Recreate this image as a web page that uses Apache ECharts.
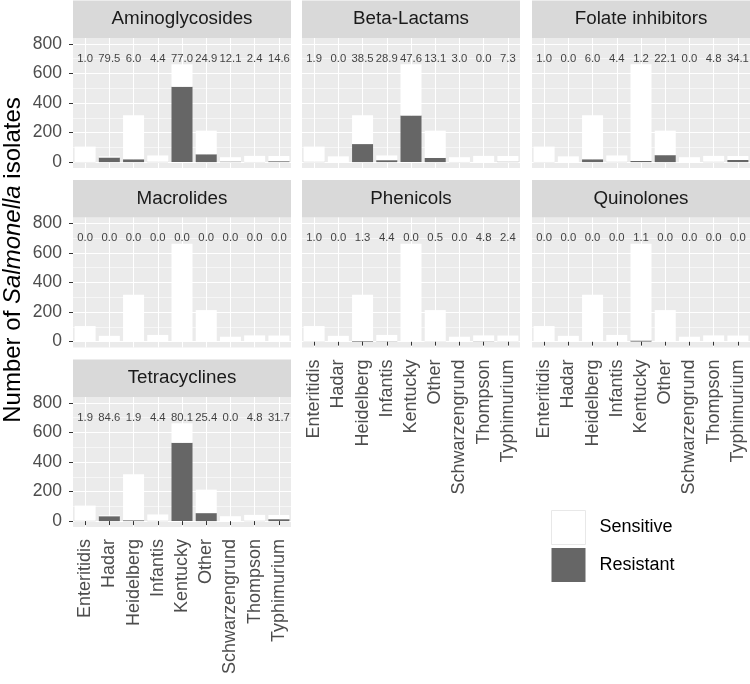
<!DOCTYPE html>
<html><head><meta charset="utf-8">
<script src="https://cdn.jsdelivr.net/npm/echarts@6/dist/echarts.min.js"></script>
<style>html,body{margin:0;padding:0;background:#fff}#c{width:750px;height:684px}</style>
</head><body><div id="c"></div>
<script>
// ---------- data ----------
const serovars = ['Enteritidis','Hadar','Heidelberg','Infantis','Kentucky','Other','Schwarzengrund','Thompson','Typhimurium'];
const totals = [105, 39, 317, 45, 662, 213, 33, 42, 41];
const classes = ['Aminoglycosides','Beta-Lactams','Folate inhibitors','Macrolides','Phenicols','Quinolones','Tetracyclines'];
const resAminoglycosides = [1, 31, 19, 2, 510, 53, 4, 1, 6];
const resBetaLactams     = [2, 0, 122, 13, 315, 28, 1, 0, 3];
const resFolate          = [1, 0, 19, 2, 8, 47, 0, 2, 14];
const resMacrolides      = [0, 0, 0, 0, 0, 0, 0, 0, 0];
const resPhenicols       = [1, 0, 4, 2, 0, 1, 0, 2, 1];
const resQuinolones      = [0, 0, 0, 0, 7, 0, 0, 0, 0];
const resTetracyclines   = [2, 33, 6, 2, 530, 54, 0, 2, 13];
const yTicks = [0, 200, 400, 600, 800];
const labelY = 700;
const legendNames = ['Sensitive', 'Resistant'];

const resistant = [resAminoglycosides, resBetaLactams, resFolate, resMacrolides, resPhenicols, resQuinolones, resTetracyclines];

// ---------- layout ----------
const FONT = '"Liberation Sans", Arial, sans-serif';
const colX = [73, 302, 532];
const panelW = 218, panelH = 130;
const panelTop = [38, 217.5, 397];
const stripH = 37.5;
const bottomPanels = [6, 4, 5];

const grids = [], xAxes = [], yAxes = [], series = [], graphics = [];
classes.forEach((cls, p) => {
  const row = Math.floor(p / 3), col = p % 3;
  const left = colX[col], top = panelTop[row];
  const showX = bottomPanels.includes(p);
  const showY = col === 0;
  grids.push({left: left, top: top, width: panelW, height: panelH, show: true,
    backgroundColor: '#EBEBEB', borderWidth: 0, containLabel: false});
  xAxes.push({type: 'category', gridIndex: p, data: serovars,
    axisLine: {show: false},
    axisTick: {show: showX, alignWithLabel: true, interval: 0, length: 4, lineStyle: {color: '#333', width: 1}},
    axisLabel: {show: showX, rotate: 90, interval: 0, fontSize: 18, color: '#4D4D4D', margin: 12, fontFamily: FONT},
    splitLine: {show: true, alignWithLabel: true, interval: 0, lineStyle: {color: '#FFFFFF', width: 1.1}}
  });
  yAxes.push({type: 'value', gridIndex: p, min: -40, max: 840, splitNumber: 5,
    axisLine: {show: false},
    axisTick: {show: showY, length: 4, customValues: yTicks, lineStyle: {color: '#333', width: 1}},
    axisLabel: {show: showY, customValues: yTicks, fontSize: 17.5, color: '#4D4D4D', margin: 11, fontFamily: FONT},
    splitLine: {show: true, lineStyle: {color: '#FFFFFF', width: 1.1}},
    minorTick: {show: false, splitNumber: 2},
    minorSplitLine: {show: true, lineStyle: {color: '#FFFFFF', width: 0.55}}
  });
  const res = resistant[p];
  const sens = totals.map((t, i) => t - res[i]);
  const pct = res.map((r, i) => (r / totals[i] * 100).toFixed(1));
  series.push({type: 'bar', name: 'Resistant', xAxisIndex: p, yAxisIndex: p, stack: 's' + p,
    data: res, barWidth: 21, itemStyle: {color: '#666666'}, silent: true});
  series.push({type: 'bar', name: 'Sensitive', xAxisIndex: p, yAxisIndex: p, stack: 's' + p,
    data: sens, barWidth: 21, itemStyle: {color: '#FFFFFF'}, silent: true});
  series.push({type: 'scatter', name: 'pct' + p, xAxisIndex: p, yAxisIndex: p,
    data: serovars.map((s, i) => [i, labelY]), symbolSize: 1, itemStyle: {color: 'rgba(0,0,0,0)'}, silent: true,
    label: {show: true, position: 'inside', formatter: (d) => pct[d.dataIndex],
      fontSize: 11.3, color: '#111', fontFamily: FONT}});
  graphics.push({type: 'rect', shape: {x: left, y: top - stripH, width: panelW, height: stripH},
    style: {fill: '#D9D9D9'}, silent: true});
  graphics.push({type: 'text', x: left + panelW / 2, y: top - stripH / 2,
    style: {text: cls, fill: '#1A1A1A', font: '18.8px ' + FONT, textAlign: 'center', textVerticalAlign: 'middle'}, silent: true});
});

graphics.push({type: 'text', x: 13, y: 260, rotation: Math.PI / 2,
  style: {text: '{a|Number of }{b|Salmonella}{a| isolates}', fill: '#000',
    rich: {a: {fontSize: 24, fontFamily: FONT, fill: '#000'}, b: {fontSize: 24, fontFamily: FONT, fontStyle: 'italic', fill: '#000'}},
    textAlign: 'center', textVerticalAlign: 'middle'}, silent: true});

const chart = echarts.init(document.getElementById('c'), null, {renderer: 'canvas'});
chart.setOption({
  animation: false,
  backgroundColor: '#FFFFFF',
  textStyle: {fontFamily: FONT},
  grid: grids, xAxis: xAxes, yAxis: yAxes, series: series,
  graphic: graphics,
  legend: {
    data: [{name: legendNames[0], itemStyle: {color: '#FFFFFF', borderColor: '#E8E8E8', borderWidth: 1}},
           {name: legendNames[1]}],
    orient: 'vertical', left: 541, top: 500, padding: 10, itemWidth: 34, itemHeight: 34, itemGap: 3,
    backgroundColor: '#FFFFFF', icon: 'rect', selectedMode: false,
    textStyle: {fontSize: 18, color: '#000', fontFamily: FONT, padding: [0, 0, 0, 9]}
  }
});
</script></body></html>
